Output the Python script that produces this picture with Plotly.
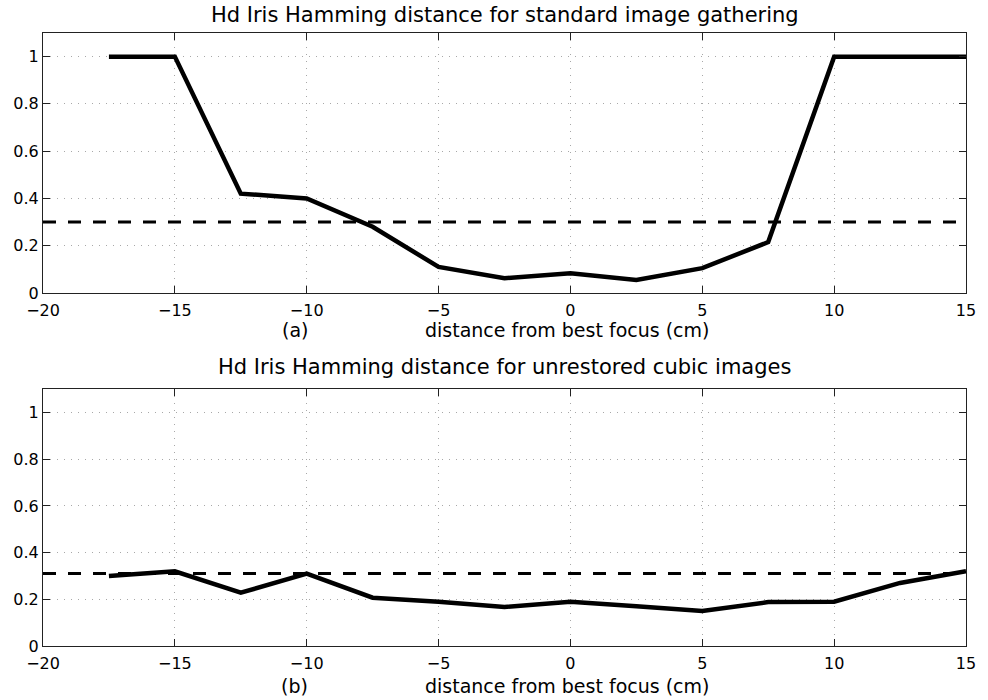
import plotly.graph_objects as go
from plotly.subplots import make_subplots

x_cm = [-17.5, -15, -12.5, -10, -7.5, -5, -2.5, 0, 2.5, 5, 7.5, 10, 12.5, 15]
hd_standard = [1.0, 1.0, 0.42, 0.40, 0.28, 0.11, 0.062, 0.083, 0.055, 0.105, 0.215, 1.0, 1.0, 1.0]
hd_cubic = [0.30, 0.32, 0.228, 0.31, 0.207, 0.19, 0.167, 0.19, 0.17, 0.15, 0.188, 0.19, 0.27, 0.32]
thr_x = [-20, 15]
thr_standard = [0.3, 0.3]
thr_cubic = [0.31, 0.31]

titles = ["Hd Iris Hamming distance for standard image gathering",
          "Hd Iris Hamming distance for unrestored cubic images"]
xlabel = "distance from best focus (cm)"
panel_tags = ["(a)", "(b)"]
x_ticks = [-20, -15, -10, -5, 0, 5, 10, 15]
y_ticks = [0, 0.2, 0.4, 0.6, 0.8, 1]
y_ticklabels = ["0", "0.2", "0.4", "0.6", "0.8", "1"]

FONT = "DejaVu Sans, Liberation Sans, Arial, sans-serif"

fig = make_subplots(rows=2, cols=1, shared_xaxes=False, vertical_spacing=0.157)

for r, (yv, thr) in enumerate([(hd_standard, thr_standard), (hd_cubic, thr_cubic)], start=1):
    fig.add_trace(go.Scatter(x=thr_x, y=thr, mode="lines",
                             line=dict(color="black", width=3, dash="13px,12px"),
                             showlegend=False, hoverinfo="skip"), row=r, col=1)
    fig.add_trace(go.Scatter(x=x_cm, y=yv, mode="lines",
                             line=dict(color="black", width=4.5),
                             showlegend=False), row=r, col=1)

axis_common = dict(showline=True, linecolor="#222", linewidth=1.2, mirror="allticks",
                   ticks="inside", ticklen=7, tickcolor="#222",
                   showgrid=True, gridcolor="#a8a8a8", griddash="1px,6px", gridwidth=1,
                   zeroline=False, tickfont=dict(family=FONT, size=16, color="black"))

for r in (1, 2):
    fig.update_xaxes(range=[-20, 15], tickvals=x_ticks,
                     ticktext=[str(v).replace("-", "\u2212") for v in x_ticks],
                     ticklabelstandoff=3, row=r, col=1, **axis_common)
    fig.update_yaxes(range=[0, 1.1], tickvals=y_ticks, ticktext=y_ticklabels,
                     row=r, col=1, **axis_common)

fig.update_layout(
    width=988, height=700,
    margin=dict(l=43, r=12, t=33, b=54),
    plot_bgcolor="white", paper_bgcolor="white",
    font=dict(family=FONT, color="black"),
    yaxis=dict(domain=[0.576, 1.0]),
    yaxis2=dict(domain=[0.0, 0.419]),
)

title_y = [1.029, 0.455]
label_y = [0.516, -0.066]
for i in range(2):
    fig.add_annotation(text=titles[i], xref="paper", yref="paper", x=0.5, y=title_y[i],
                       xanchor="center", yanchor="middle", showarrow=False,
                       font=dict(family=FONT, size=21, color="black"))
    fig.add_annotation(text=xlabel, xref="paper", yref="paper", x=0.568, y=label_y[i],
                       xanchor="center", yanchor="middle", showarrow=False,
                       font=dict(family=FONT, size=19, color="black"))
    fig.add_annotation(text=panel_tags[i], xref="paper", yref="paper", x=0.273, y=label_y[i],
                       xanchor="center", yanchor="middle", showarrow=False,
                       font=dict(family=FONT, size=19, color="black"))

fig.write_html("out.html", config={"displayModeBar": False},
               post_script="document.body.style.margin='0px';")
